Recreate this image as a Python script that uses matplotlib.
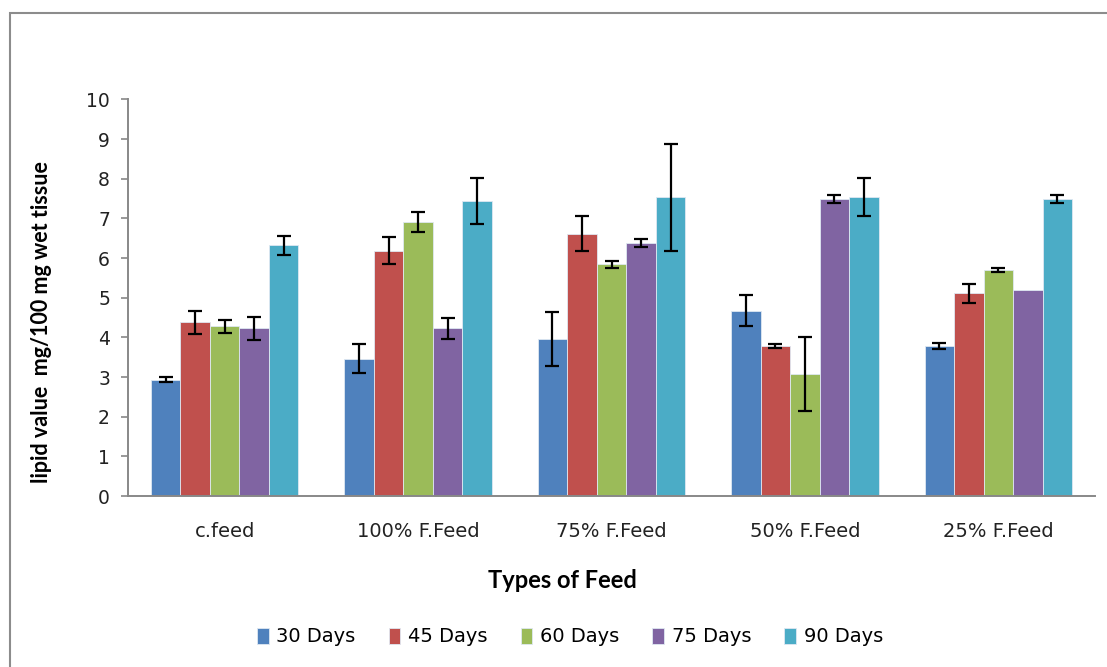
import numpy as np
import matplotlib
matplotlib.use("Agg")
import matplotlib.pyplot as plt
from matplotlib.patches import Rectangle

# data
feeds = ["c.feed", "100% F.Feed", "75% F.Feed", "50% F.Feed", "25% F.Feed"]
series = ["30 Days", "45 Days", "60 Days", "75 Days", "90 Days"]

days30 = [2.93, 3.46, 3.95, 4.67, 3.79]
days45 = [4.38, 6.18, 6.62, 3.79, 5.11]
days60 = [4.28, 6.91, 5.84, 3.07, 5.69]
days75 = [4.23, 4.23, 6.37, 7.49, 5.20]
days90 = [6.32, 7.44, 7.53, 7.53, 7.49]

err30 = [0.06, 0.37, 0.68, 0.39, 0.08]
err45 = [0.29, 0.34, 0.44, 0.05, 0.23]
err60 = [0.17, 0.25, 0.08, 0.93, 0.05]
err75 = [0.29, 0.26, 0.10, 0.10, 0.0]
err90 = [0.24, 0.58, 1.35, 0.48, 0.10]

colors = ["#4F81BD", "#C0504D", "#9BBB59", "#8064A2", "#4BACC6"]

values = [days30, days45, days60, days75, days90]
errors = [err30, err45, err60, err75, err90]

fig = plt.figure(figsize=(11.07, 6.67), dpi=100)
ax = fig.add_axes([128 / 1107, 171 / 667, 967 / 1107, 396.5 / 667])

# outer chart border
fig.patches.append(Rectangle((10 / 1107, -0.05), 1.2, 1 - 13 / 667 + 0.05,
                             transform=fig.transFigure, fill=False,
                             edgecolor="#8c8c8c", linewidth=1.5))

x = np.arange(len(feeds))
w = 0.1526
for i, (vals, errs) in enumerate(zip(values, errors)):
    pos = x + (i - 2) * w
    ax.bar(pos, vals, width=w, color=colors[i], edgecolor="#dfe8f2",
           linewidth=0.6, label=series[i], zorder=2)
    show = [e > 0 for e in errs]
    ax.errorbar(pos[show], np.array(vals)[show], yerr=np.array(errs)[show],
                fmt="none", ecolor="black", elinewidth=1.6, capsize=5,
                capthick=1.6, zorder=3)

ax.set_xlim(-0.5, len(feeds) - 0.5)
ax.set_ylim(0, 10)
ax.set_yticks(range(0, 11))
ax.set_xticks(x)
ax.set_xticklabels(feeds, fontsize=14, color="#222222")
ax.tick_params(axis="x", length=0, pad=19)
ax.tick_params(axis="y", labelsize=13.5, colors="#888888", labelcolor="#222222",
               length=5, width=1.2, pad=8)

for s in ["top", "right"]:
    ax.spines[s].set_visible(False)
ax.spines["left"].set_color("#888888")
ax.spines["bottom"].set_color("#888888")
ax.spines["left"].set_linewidth(1.4)
ax.spines["bottom"].set_linewidth(1.4)

ax.set_xlabel("Types of Feed", fontsize=17, fontweight="bold",
              family=["Lato", "DejaVu Sans"], va="center")
ax.xaxis.set_label_coords(0.449, -0.214)
ax.set_ylabel("lipid value  mg/100 mg wet tissue", fontsize=15.5,
              fontweight="bold", family=["Lato", "DejaVu Sans"], va="center")
ax.yaxis.set_label_coords(-0.089, 0.439)

fig.legend(*ax.get_legend_handles_labels(), loc="center",
           bbox_to_anchor=(570 / 1107, 1 - 637 / 667), ncol=5,
           frameon=False, fontsize=14, handlelength=0.6, handleheight=0.9,
           handletextpad=0.4, columnspacing=1.7)

fig.savefig("out.png", dpi=100)
